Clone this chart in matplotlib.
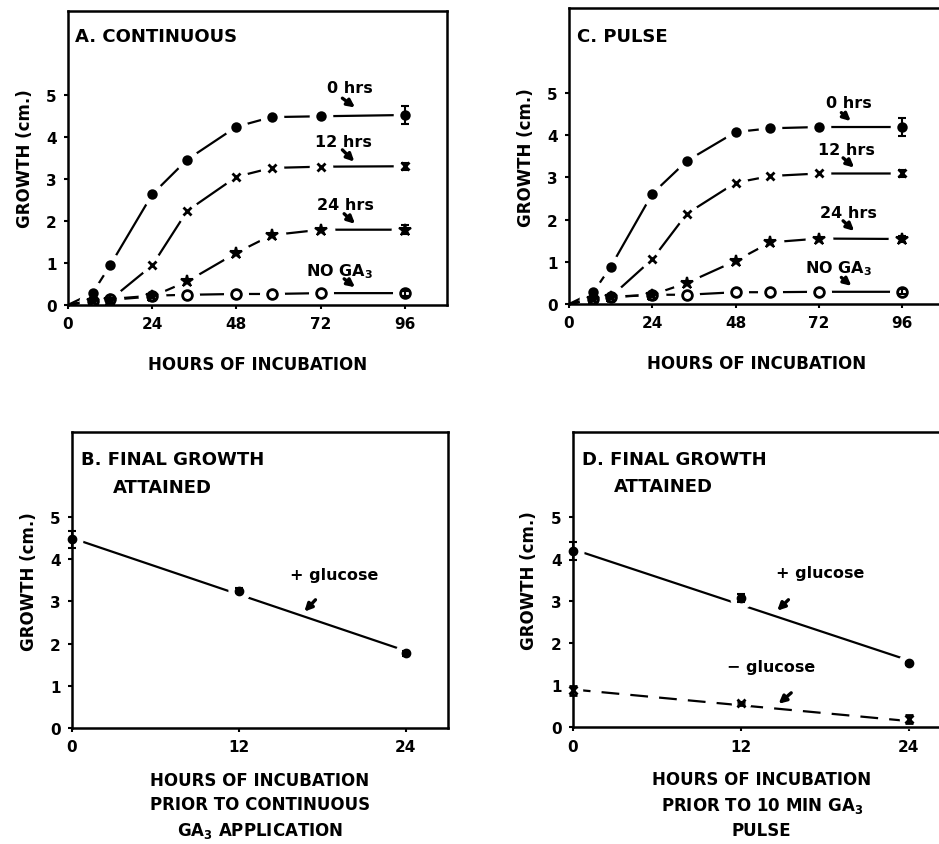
import matplotlib
matplotlib.use("Agg")
import matplotlib.pyplot as plt

plt.rcParams['font.family'] = ['DejaVu Sans']
plt.rcParams['font.weight'] = 'bold'
plt.rcParams['mathtext.default'] = 'regular'

# ---------------- data ----------------
hours = [0, 7, 12, 24, 34, 48, 58, 72, 96]

cont_0h = [0, 0.28, 0.94, 2.63, 3.46, 4.24, 4.47, 4.49, 4.52]
cont_12h = [0, 0.10, 0.12, 0.94, 2.24, 3.05, 3.26, 3.29, 3.30]
cont_24h = [0, 0.10, 0.12, 0.20, 0.56, 1.24, 1.66, 1.79, 1.79]
cont_noga = [0, 0.10, 0.14, 0.22, 0.24, 0.26, 0.26, 0.28, 0.28]
cont_err = [0.22, 0.08, 0.10, 0.06]

pulse_0h = [0, 0.28, 0.88, 2.61, 3.39, 4.07, 4.16, 4.19, 4.19]
pulse_12h = [0, 0.12, 0.17, 1.06, 2.14, 2.87, 3.03, 3.09, 3.09]
pulse_24h = [0, 0.12, 0.16, 0.22, 0.50, 1.02, 1.46, 1.55, 1.54]
pulse_noga = [0, 0.12, 0.17, 0.22, 0.22, 0.28, 0.28, 0.29, 0.29]
pulse_err = [0.22, 0.08, 0.06, 0.06]

pre_hours = [0, 12, 24]
final_cont_glu = [4.47, 3.26, 1.77]
final_cont_err = [0.20, 0.05, 0.06]
fit_cont_glu = [4.50, 1.83]

final_pulse_glu = [4.19, 3.07, 1.52]
final_pulse_glu_err = [0.22, 0.10, 0.03]
fit_pulse_glu = [4.23, 1.59]
final_pulse_noglu = [0.88, 0.57, 0.20]
final_pulse_noglu_err = [0.10, 0.03, 0.10]
fit_pulse_noglu = [0.90, 0.15]
fit_x = [0, 24]

series_labels = ['0 hrs', '12 hrs', '24 hrs', 'NO GA$_3$']

fig = plt.figure(figsize=(9.39, 8.45), dpi=100)

def style_axes(ax, xticks, xlim):
    ax.set_xlim(*xlim)
    ax.set_ylim(0, 7)
    ax.set_xticks(xticks)
    ax.set_yticks([0, 1, 2, 3, 4, 5])
    for s in ax.spines.values():
        s.set_linewidth(1.8)
        s.set_zorder(10)
    ax.tick_params(axis='both', direction='out', length=3, width=1.5,
                   labelsize=11, pad=5)
    for lab in ax.get_xticklabels() + ax.get_yticklabels():
        lab.set_fontweight('bold')
    ax.set_ylabel('GROWTH (cm.)', fontsize=12, fontweight='bold', labelpad=9)


def gapped(ax, x, y, marker, ms, mfc='black', mew=1.5, skip_first=True):
    start = 1 if skip_first else 0
    ax.plot(x, y, color='black', lw=1.6, zorder=2)
    ax.plot(x[start:], y[start:], ls='none', marker='o', ms=ms + 10,
            mfc='white', mec='white', zorder=3)
    ax.plot(x[start:], y[start:], ls='none', marker=marker, ms=ms,
            mfc=mfc, mec='black', mew=mew, zorder=4)


def arrow(ax, x0, y0, x1, y1):
    ax.annotate('', xy=(x1, y1), xytext=(x0, y0),
                arrowprops=dict(arrowstyle='-|>', lw=2.4, color='black',
                                mutation_scale=11, shrinkA=0, shrinkB=0))


def growth_panel(ax, s0, s12, s24, snoga, err, title, label_pos, arrows):
    gapped(ax, hours, snoga, 'o', 7, mfc='white', mew=2)
    gapped(ax, hours, s24, '*', 9)
    gapped(ax, hours, s12, 'x', 6, mew=2)
    gapped(ax, hours, s0, 'o', 6)
    finals = [s0[-1], s12[-1], s24[-1], snoga[-1]]
    ax.errorbar([hours[-1]] * 4, finals, yerr=err, fmt='none', ecolor='black',
                elinewidth=1.5, capsize=3, capthick=1.5, zorder=5)
    style_axes(ax, [0, 24, 48, 72, 96], (0, 108))
    ax.set_xlabel('HOURS OF INCUBATION', fontsize=12, fontweight='bold', labelpad=17)
    ax.text(title[1], title[2], title[0], fontsize=13, fontweight='bold', va='center')
    for lab, (tx, ty), (ax0, ay0, ax1, ay1) in zip(series_labels, label_pos, arrows):
        ax.text(tx, ty, lab, fontsize=11.5, fontweight='bold', va='center')
        arrow(ax, ax0, ay0, ax1, ay1)


# Panel A
axA = fig.add_axes([0.0724, 0.638, 0.4036, 0.348])
growth_panel(axA, cont_0h, cont_12h, cont_24h, cont_noga, cont_err,
             ('A. CONTINUOUS', 1.9, 6.39),
             [(73.9, 5.17), (70.5, 3.88), (71.0, 2.39), (67.7, 0.82)],
             [(78.2, 4.92, 81.8, 4.70), (78.2, 3.69, 81.6, 3.41),
              (78.7, 2.17, 81.8, 1.93), (78.7, 0.62, 81.8, 0.42)])

# Panel C
axC = fig.add_axes([0.606, 0.639, 0.399, 0.350])
growth_panel(axC, pulse_0h, pulse_12h, pulse_24h, pulse_noga, pulse_err,
             ('C. PULSE', 2.4, 6.35),
             [(74.2, 4.78), (71.8, 3.66), (72.3, 2.17), (67.9, 0.87)],
             [(78.5, 4.53, 81.2, 4.33), (79.0, 3.46, 82.2, 3.23),
              (79.0, 1.97, 82.2, 1.73), (78.5, 0.63, 81.4, 0.43)])


def final_panel(ax, title_a, xlabel):
    style_axes(ax, [0, 12, 24], (0, 27))
    ax.text(0.67, 6.37, title_a, fontsize=13, fontweight='bold', va='center')
    ax.text(2.95, 5.72, 'ATTAINED', fontsize=13, fontweight='bold', va='center')
    ax.set_xlabel(xlabel, fontsize=12, fontweight='bold', labelpad=12,
                  linespacing=1.45)


# Panel B
axB = fig.add_axes([0.0767, 0.137, 0.400, 0.350])
axB.plot(fit_x, fit_cont_glu, color='black', lw=1.6, zorder=2)
axB.plot(pre_hours, final_cont_glu, ls='none', marker='o', ms=15,
         mfc='white', mec='white', zorder=3, clip_on=False)
axB.errorbar(pre_hours, final_cont_glu, yerr=final_cont_err, fmt='o', ms=6,
             color='black', elinewidth=1.5, capsize=3, capthick=1.5, zorder=11,
             clip_on=False)
final_panel(axB, 'B. FINAL GROWTH',
            'HOURS OF INCUBATION\nPRIOR TO CONTINUOUS\nGA$_3$ APPLICATION')
axB.text(15.7, 3.63, '+ glucose', fontsize=11.5, fontweight='bold', va='center')
arrow(axB, 17.5, 3.04, 16.7, 2.76)

# Panel D
axD = fig.add_axes([0.610, 0.138, 0.4026, 0.349])
axD.plot(fit_x, fit_pulse_glu, color='black', lw=1.6, zorder=2)
dl, = axD.plot(fit_x, fit_pulse_noglu, color='black', lw=1.6, zorder=2)
dl.set_dashes([8, 5])
axD.plot(pre_hours, final_pulse_glu, ls='none', marker='o', ms=15,
         mfc='white', mec='white', zorder=3, clip_on=False)
axD.plot(pre_hours, final_pulse_noglu, ls='none', marker='o', ms=13,
         mfc='white', mec='white', zorder=3, clip_on=False)
axD.errorbar(pre_hours, final_pulse_glu, yerr=final_pulse_glu_err, fmt='o', ms=6,
             color='black', elinewidth=1.5, capsize=3, capthick=1.5, zorder=11,
             clip_on=False)
axD.errorbar(pre_hours, final_pulse_noglu, yerr=final_pulse_noglu_err, fmt='x', ms=6,
             mew=2, color='black', elinewidth=1.5, capsize=3, capthick=1.5, zorder=11,
             clip_on=False)
final_panel(axD, 'D. FINAL GROWTH',
            'HOURS OF INCUBATION\nPRIOR TO 10 MIN GA$_3$\nPULSE')
axD.text(14.5, 3.67, '+ glucose', fontsize=11.5, fontweight='bold', va='center')
arrow(axD, 15.4, 3.03, 14.6, 2.77)
axD.text(11.0, 1.45, '\u2212 glucose', fontsize=11.5, fontweight='bold', va='center')
arrow(axD, 15.6, 0.82, 14.7, 0.56)

fig.savefig('out.png', dpi=100)
